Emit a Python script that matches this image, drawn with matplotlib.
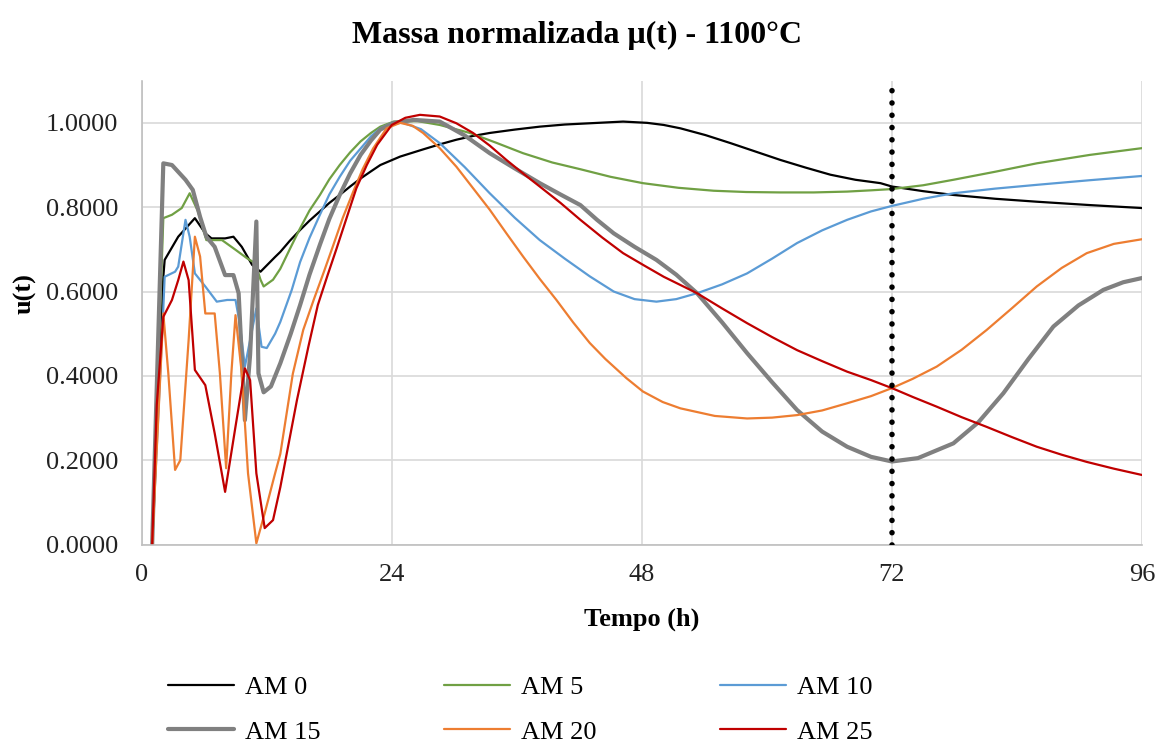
import numpy as np
import matplotlib.pyplot as plt

plt.rcParams['font.family'] = ['Liberation Serif', 'DejaVu Serif']

# data: tempo (h) vs u(t)
t_am0 = [1, 2.07, 2.2, 3.5, 5.1, 6.1, 6.7, 8.0, 8.8, 9.6, 10.6, 11.4, 12.8, 13.3, 14.2, 15.2, 16.1,
         17.1, 18.0, 19.0, 20.0, 21.0, 22.0, 22.9, 24.8, 27.0, 28.6, 30.2, 31.8, 33.4, 35.8, 38.2,
         40.6, 43.0, 46.2, 48.5, 50.1, 51.7, 54.1, 56.5, 58.9, 61.3, 63.7, 66.1, 68.5, 70.9, 72,
         75.0, 77.9, 81.9, 85.9, 91.0, 96]
u_am0 = [0, 0.635, 0.675, 0.73, 0.774, 0.738, 0.726, 0.726, 0.73, 0.706, 0.663, 0.647, 0.682, 0.694,
         0.72, 0.746, 0.768, 0.79, 0.81, 0.829, 0.849, 0.868, 0.885, 0.9, 0.92, 0.937, 0.949, 0.96,
         0.969, 0.976, 0.984, 0.991, 0.996, 0.999, 1.003, 1.0, 0.995, 0.987, 0.971, 0.952, 0.932,
         0.912, 0.894, 0.877, 0.865, 0.857, 0.849, 0.838, 0.829, 0.82, 0.813, 0.805, 0.798]

t_am5 = [1, 2.07, 2.9, 3.84, 4.6, 5.4, 6.2, 7.7, 9.0, 10.1, 10.9, 11.4, 11.7, 12.6, 13.3, 14.2, 15.2,
         16.1, 17.1, 18.0, 19.0, 20.0, 21.0, 22.0, 22.9, 24.2, 26.5, 28.6, 31.5, 34.0, 36.6, 39.4,
         42.1, 45.0, 48.1, 51.5, 54.9, 58.0, 61.3, 64.5, 67.7, 70.0, 72, 75.0, 77.9, 81.9, 85.9,
         91.0, 96]
u_am5 = [0, 0.774, 0.782, 0.798, 0.833, 0.79, 0.722, 0.722, 0.699, 0.679, 0.667, 0.628, 0.612, 0.628,
         0.654, 0.7, 0.75, 0.792, 0.829, 0.866, 0.9, 0.93, 0.956, 0.976, 0.991, 1.003, 1.004, 0.995,
         0.976, 0.953, 0.928, 0.906, 0.89, 0.872, 0.857, 0.846, 0.839, 0.836, 0.835, 0.835, 0.837,
         0.84, 0.843, 0.852, 0.865, 0.884, 0.904, 0.924, 0.94]

t_am10 = [1, 2.07, 2.2, 3.2, 3.5, 4.2, 4.6, 5.1, 6.1, 7.2, 8.2, 9.0, 9.4, 9.9, 11.0, 11.5, 12.0, 12.8,
          13.3, 14.4, 15.2, 16.1, 17.1, 18.0, 19.0, 20.0, 21.0, 22.0, 22.9, 24.0, 25.1, 26.8, 28.6,
          31.0, 33.4, 35.8, 38.2, 40.6, 43.0, 45.3, 47.3, 49.4, 51.3, 53.3, 55.7, 58.1, 60.5, 62.9,
          65.3, 67.7, 70.0, 72, 75.0, 77.9, 81.9, 85.9, 91.0, 96]
u_am10 = [0, 0.56, 0.635, 0.647, 0.659, 0.77, 0.73, 0.643, 0.612, 0.576, 0.58, 0.58, 0.525, 0.422,
          0.56, 0.469, 0.466, 0.5, 0.528, 0.604, 0.67, 0.727, 0.782, 0.83, 0.872, 0.91, 0.939, 0.968,
          0.987, 1.0, 1.0, 0.985, 0.952, 0.895, 0.833, 0.775, 0.722, 0.678, 0.636, 0.6, 0.582,
          0.576, 0.582, 0.596, 0.617, 0.643, 0.678, 0.715, 0.745, 0.77, 0.79, 0.803, 0.82, 0.833,
          0.844, 0.853, 0.864, 0.874]

t_am15 = [1, 2.07, 2.9, 4.2, 4.9, 5.6, 6.2, 7.0, 8.0, 8.8, 9.3, 9.9, 10.4, 11.0, 11.2, 11.7, 12.4,
          13.3, 14.3, 15.2, 16.1, 17.1, 18.0, 19.0, 20.0, 21.0, 22.0, 22.9, 24.2, 26.1, 28.6, 31.0,
          33.4, 35.8, 38.2, 40.2, 42.1, 43.7, 45.3, 47.3, 49.4, 51.3, 53.3, 55.7, 58.1, 60.5, 62.9,
          65.3, 67.7, 70.0, 72.0, 74.5, 77.9, 80.3, 82.7, 85.1, 87.5, 89.9, 92.3, 94.2, 96]
u_am15 = [0, 0.904, 0.9, 0.865, 0.841, 0.777, 0.73, 0.706, 0.639, 0.639, 0.596, 0.295, 0.45, 0.766,
          0.406, 0.361, 0.375, 0.43, 0.5, 0.568, 0.64, 0.711, 0.772, 0.829, 0.88, 0.924, 0.958, 0.984,
          1.0, 1.007, 1.003, 0.97, 0.928, 0.892, 0.857, 0.83, 0.805, 0.77, 0.738, 0.706, 0.675,
          0.64, 0.596, 0.527, 0.454, 0.385, 0.319, 0.268, 0.232, 0.208, 0.197, 0.205, 0.24, 0.29,
          0.359, 0.44, 0.517, 0.567, 0.604, 0.622, 0.632]

t_am20 = [1, 2.07, 2.55, 3.2, 3.7, 4.5, 5.1, 5.6, 6.1, 7.0, 7.5, 8.1, 8.6, 9.0, 9.6, 10.2, 11.0, 11.8,
          12.8, 13.3, 14.5, 15.5, 16.5, 17.5, 18.4, 19.3, 20.3, 21.2, 22.2, 23.5, 24.8, 26.0, 27.0,
          28.6, 30.2, 31.8, 33.4, 35.0, 36.6, 38.2, 39.8, 41.4, 43.0, 44.5, 46.5, 48.1, 50.0, 51.7,
          55.0, 58.1, 60.5, 62.9, 65.3, 67.7, 70.0, 72, 74.0, 76.3, 78.7, 81.1, 83.5, 85.9, 88.3,
          90.7, 93.3, 96]
u_am20 = [0, 0.548, 0.406, 0.177, 0.2, 0.485, 0.73, 0.683, 0.548, 0.548, 0.406, 0.181, 0.406, 0.544,
          0.406, 0.169, 0.003, 0.074, 0.169, 0.215, 0.405, 0.509, 0.58, 0.648, 0.711, 0.775, 0.837,
          0.89, 0.939, 0.987, 1.0, 0.993, 0.976, 0.94, 0.896, 0.845, 0.794, 0.738, 0.683, 0.63,
          0.58, 0.527, 0.478, 0.44, 0.395, 0.363, 0.338, 0.323, 0.305, 0.299, 0.301, 0.307, 0.318,
          0.335, 0.352, 0.371, 0.393, 0.422, 0.462, 0.509, 0.56, 0.612, 0.656, 0.691, 0.713, 0.724]

t_am25 = [1, 1.44, 2.07, 2.9, 3.5, 4.0, 4.5, 5.1, 6.1, 7.0, 8.0, 9.0, 9.9, 10.4, 11.0, 11.8, 12.6,
          13.3, 14.9, 16.0, 16.9, 17.8, 18.7, 20.0, 20.6, 21.6, 22.6, 24.0, 25.3, 26.7, 28.6, 30.2,
          31.8, 33.4, 35.0, 36.6, 38.2, 40.2, 42.1, 44.2, 46.2, 48.2, 50.1, 53.3, 55.7, 58.1, 60.5,
          62.9, 65.3, 67.7, 70.0, 72, 74.0, 76.3, 78.7, 81.1, 83.5, 85.9, 88.3, 90.7, 93.3, 96]
u_am25 = [0, 0.331, 0.54, 0.58, 0.627, 0.671, 0.627, 0.414, 0.378, 0.264, 0.125, 0.28, 0.418, 0.39,
          0.169, 0.039, 0.058, 0.136, 0.343, 0.47, 0.568, 0.636, 0.702, 0.8, 0.845, 0.9, 0.948, 0.995,
          1.012, 1.019, 1.015, 0.999, 0.976, 0.946, 0.912, 0.88, 0.849, 0.81, 0.77, 0.728, 0.691,
          0.662, 0.635, 0.596, 0.56, 0.525, 0.492, 0.461, 0.435, 0.41, 0.39, 0.371, 0.35, 0.327,
          0.302, 0.279, 0.255, 0.232, 0.213, 0.196, 0.18, 0.165]

series = [
    ('AM 0', t_am0, u_am0, '#000000', 1.6),
    ('AM 5', t_am5, u_am5, '#70A044', 1.6),
    ('AM 10', t_am10, u_am10, '#5B9BD5', 1.6),
    ('AM 15', t_am15, u_am15, '#808080', 3.0),
    ('AM 20', t_am20, u_am20, '#ED7D31', 1.6),
    ('AM 25', t_am25, u_am25, '#C00000', 1.6),
]

fig = plt.figure(figsize=(11.59, 7.47), dpi=100)
ax = fig.add_axes([0.1223, 0.271, 0.863, 0.621])

lines = []
for name, t, u, c, lw in series:
    ln, = ax.plot(t, u, color=c, linewidth=lw, label=name,
                  solid_joinstyle='round', solid_capstyle='round')
    lines.append(ln)

# dotted marker line at 72 h
ax.axvline(72, color='black', linewidth=4, linestyle=(0, (0.01, 2.2)),
           dash_capstyle='round', zorder=5)

ax.set_xlim(0, 96)
ax.set_ylim(0, 1.1)
ax.set_xticks([0, 24, 48, 72, 96])
yt = np.arange(0, 1.01, 0.2)
ax.set_yticks(yt)
ax.set_yticklabels([f'{v:.4f}' for v in yt])
ax.grid(True, color='#D9D9D9', linewidth=1.2)
ax.set_axisbelow(True)
for s in ['top', 'right']:
    ax.spines[s].set_visible(False)
for s in ['left', 'bottom']:
    ax.spines[s].set_color('#BFBFBF')
    ax.spines[s].set_linewidth(1.2)
ax.tick_params(axis='both', length=0, labelsize=19, colors='#222222')
ax.tick_params(axis='y', pad=17)
ax.tick_params(axis='x', pad=14)

ax.set_xlabel('Tempo (h)', fontsize=19, fontweight='bold')
ax.set_ylabel('u(t)', fontsize=19, fontweight='bold')
ax.xaxis.set_label_coords(0.5, -0.136)
ax.yaxis.set_label_coords(-0.105, 0.542)

fig.text(0.498, 0.952, 'Massa normalizada μ(t) - 1100°C', ha='center', va='center',
         fontsize=23, fontweight='bold')

# legend filled row by row like the original
order = [0, 3, 1, 4, 2, 5]
fig.legend([lines[i] for i in order], [series[i][0] for i in order],
           loc='center', bbox_to_anchor=(0.449, 0.05), ncol=3, frameon=False,
           fontsize=19, handlelength=2.5, handletextpad=0.4, columnspacing=4.7,
           labelspacing=0.8, borderpad=0.2)

fig.savefig('out.png', dpi=100)
